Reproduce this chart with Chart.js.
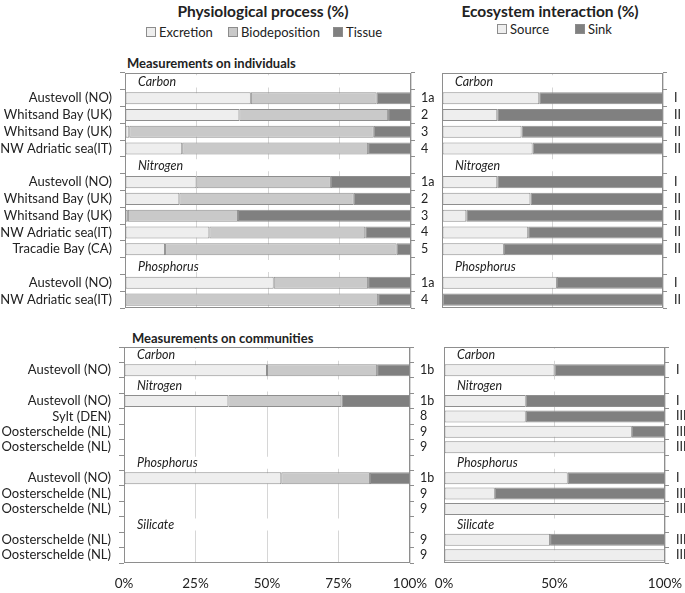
<!DOCTYPE html>
<html>
<head>
<meta charset="utf-8">
<script src="https://cdn.jsdelivr.net/npm/chart.js@4.4.1/dist/chart.umd.min.js"></script>
<style>
  html, body { margin: 0; padding: 0; background: #fff; }
  #wrap { position: relative; width: 685px; height: 593px; overflow: hidden; font-family: Lato, "Noto Sans", sans-serif; color: #222; }
  canvas { position: absolute; }
  .t { position: absolute; white-space: nowrap; }
  .title { font-weight: bold; font-size: 15.5px; transform: translateX(-50%); }
  .sub { font-weight: bold; font-size: 13px; }
  .leg { position: absolute; white-space: nowrap; font-size: 13px; display: flex; align-items: center; }
  .sw { display: inline-block; width: 8px; height: 8px; border: 1px solid #8c8c8c; margin-right: 3px; }
</style>
</head>
<body>
<div id="wrap">
  <div class="t title" style="left:263px; top:2px;">Physiological process (%)</div>
  <div class="leg" style="left:146px; top:24px;"><span class="sw" style="background:#eeeeee"></span>Excretion</div>
  <div class="leg" style="left:228px; top:24px;"><span class="sw" style="background:#c9c9c9"></span>Biodeposition</div>
  <div class="leg" style="left:333px; top:24px;"><span class="sw" style="background:#808080"></span>Tissue</div>

  <div class="t title" style="left:550px; top:2px;">Ecosystem interaction (%)</div>
  <div class="leg" style="left:497px; top:21px;"><span class="sw" style="background:#eeeeee"></span>Source</div>
  <div class="leg" style="left:575px; top:21px;"><span class="sw" style="background:#808080"></span>Sink</div>

  <div class="t sub" style="left:127px; top:55px;">Measurements on individuals</div>
  <div class="t sub" style="left:132px; top:330px;">Measurements on communities</div>

  <canvas id="lt" width="440" height="250" style="left:0px; top:60px;"></canvas>
  <canvas id="rt" width="255" height="250" style="left:430px; top:60px;"></canvas>
  <canvas id="lb" width="440" height="258" style="left:0px; top:335px;"></canvas>
  <canvas id="rb" width="255" height="258" style="left:430px; top:335px;"></canvas>
</div>
<script>
// ---------- Data: measurements on individuals ----------
const topSites = ['', 'Austevoll (NO)', 'Whitsand Bay (UK)', 'Whitsand Bay (UK)', 'NW Adriatic sea(IT)', '', 'Austevoll (NO)', 'Whitsand Bay (UK)', 'Whitsand Bay (UK)', 'NW Adriatic sea(IT)', 'Tracadie Bay (CA)', '', 'Austevoll (NO)', 'NW Adriatic sea(IT)'];
const topStudies = ['', '1a', '2', '3', '4', '', '1a', '2', '3', '4', '5', '', '1a', '4'];
const topTypes = ['', 'I', 'II', 'II', 'II', '', 'I', 'II', 'II', 'II', 'II', '', 'I', 'II'];
const topHeaders = ['Carbon', '', '', '', '', 'Nitrogen', '', '', '', '', '', 'Phosphorus', '', ''];
const topExcretion = [null, 44, 40, 1.5, 20, null, 25, 19, 1, 29.5, 14, null, 52, 0];
const topBiodeposition = [null, 44, 52, 85.5, 65, null, 47, 61, 38.5, 54.5, 81, null, 33, 88.5];
const topTissue = [null, 12, 8, 13, 15, null, 28, 20, 60.5, 16, 5, null, 15, 11.5];
const topSource = [null, 44, 25, 36, 41, null, 25, 40, 11, 39, 28, null, 52, 0];
const topSink = [null, 56, 75, 64, 59, null, 75, 60, 89, 61, 72, null, 48, 100];

// ---------- Data: measurements on communities ----------
const botSites = ['', 'Austevoll (NO)', '', 'Austevoll (NO)', 'Sylt (DEN)', 'Oosterschelde (NL)', 'Oosterschelde (NL)', '', 'Austevoll (NO)', 'Oosterschelde (NL)', 'Oosterschelde (NL)', '', 'Oosterschelde (NL)', 'Oosterschelde (NL)'];
const botStudies = ['', '1b', '', '1b', '8', '9', '9', '', '1b', '9', '9', '', '9', '9'];
const botTypes = ['', 'I', '', 'I', 'III', 'III', 'III', '', 'I', 'III', 'III', '', 'III', 'III'];
const botHeaders = ['Carbon', '', 'Nitrogen', '', '', '', '', 'Phosphorus', '', '', '', 'Silicate', '', ''];
const botExcretion = [null, 50, null, 36.5, null, null, null, null, 55, null, null, null, null, null];
const botBiodeposition = [null, 38.5, null, 39.5, null, null, null, null, 31, null, null, null, null, null];
const botTissue = [null, 11.5, null, 24, null, null, null, null, 14, null, null, null, null, null];
const botSource = [null, 50, null, 37, 37, 85, 100, null, 56, 23, 100, null, 48, 100];
const botSink = [null, 50, null, 63, 63, 15, 0, null, 44, 77, 0, null, 52, 0];

const xTicksLeft = ['0%', '25%', '50%', '75%', '100%'];
const xTicksRight = ['0%', '50%', '100%'];

// ---------- Styles ----------
const C_LIGHT = '#eeeeee', C_MID = '#c9c9c9', C_DARK = '#808080';
const C_EDGE = '#8e8e8e', C_GRID = '#d6d6d6', C_TEXT = '#222';
Chart.defaults.font.family = 'Lato, "Noto Sans", sans-serif';
Chart.defaults.color = C_TEXT;

const boxAndHeaders = {
  id: 'boxAndHeaders',
  afterDatasetsDraw(chart, args, opts) {
    const ctx = chart.ctx, a = chart.chartArea;
    ctx.save();
    ctx.strokeStyle = C_EDGE;
    ctx.lineWidth = 1;
    ctx.strokeRect(Math.round(a.left) + 0.5, Math.round(a.top) + 0.5, Math.round(a.right - a.left) - 1, Math.round(a.bottom - a.top) - 1);
    const ys = chart.scales[opts.indexScale];
    ctx.font = 'italic 12.5px Lato, "Noto Sans", sans-serif';
    ctx.fillStyle = '#222';
    ctx.textBaseline = 'middle';
    ctx.textAlign = 'left';
    opts.headers.forEach((h, i) => {
      if (h) ctx.fillText(h, a.left + opts.indent, ys.getPixelForValue(i) + 0.5);
    });
    ctx.restore();
  }
};

function headerBar(headers) {
  return { label: 'header', data: headers.map(h => h ? 100 : null), backgroundColor: '#ffffff', borderWidth: 0 };
}
function ds(label, data, color) {
  return { label, data, backgroundColor: color, borderColor: C_EDGE, borderWidth: 1, borderSkipped: false };
}

function makeChart(id, cfg) {
  const xScale = {
    type: 'linear', min: 0, max: 100, stacked: true, position: 'bottom',
    grid: { color: C_GRID, lineWidth: 1, drawTicks: false },
    border: { display: false },
    ticks: {
      display: cfg.showX, stepSize: cfg.step, padding: 13, color: C_TEXT,
      font: { size: 13.5 },
      callback: (v) => cfg.xLabels[Math.round(v / cfg.step)]
    },
    afterFit: (s) => { s.height = cfg.xHeight; s.paddingLeft = 0; s.paddingRight = 0; }
  };
  const scales = { x: xScale };
  scales.y = {
    type: 'category', stacked: true, offset: true, position: cfg.indexPos,
    grid: { drawOnChartArea: false, drawTicks: true, tickLength: cfg.tickLen, color: C_EDGE, offset: true },
    border: { display: false },
    ticks: { autoSkip: false, padding: cfg.tickPad, color: C_TEXT, font: { size: cfg.labelSize } },
    afterFit: (s) => { s.width = cfg.indexWidth; s.paddingTop = 0; s.paddingBottom = 0; }
  };
  if (cfg.secondLabels) {
    scales.y2 = {
      type: 'category', labels: cfg.secondLabels, offset: true, position: 'right',
      grid: { drawOnChartArea: false, drawTicks: true, tickLength: 4, color: C_EDGE, offset: true },
      border: { display: false },
      ticks: { autoSkip: false, padding: 6, color: C_TEXT, font: { size: 12.5 } },
      afterFit: (s) => { s.width = cfg.secondWidth; s.paddingTop = 0; s.paddingBottom = 0; }
    };
  }
  return new Chart(document.getElementById(id), {
    type: 'bar',
    data: { labels: cfg.labels, datasets: cfg.datasets.map(d => Object.assign(d, { barPercentage: cfg.barPct, categoryPercentage: 1 })) },
    options: {
      indexAxis: 'y', responsive: false, animation: false, devicePixelRatio: 1,
      layout: { padding: cfg.padding },
      plugins: { legend: { display: false }, tooltip: { enabled: false },
        boxAndHeaders: { headers: cfg.headers, indent: cfg.indent, indexScale: 'y' } },
      scales
    },
    plugins: [boxAndHeaders]
  });
}

makeChart('lt', {
  labels: topSites, secondLabels: topStudies, secondWidth: 29, headers: topHeaders, indent: 13,
  indexPos: 'left', indexWidth: 125, tickLen: 5, tickPad: 8, labelSize: 13,
  showX: false, xHeight: 0, step: 25, xLabels: xTicksLeft, barPct: 0.72,
  padding: { top: 13, bottom: 2, left: 0, right: 0 },
  datasets: [headerBar(topHeaders), ds('Excretion', topExcretion, C_LIGHT), ds('Biodeposition', topBiodeposition, C_MID), ds('Tissue', topTissue, C_DARK)]
});
makeChart('rt', {
  labels: topTypes, headers: topHeaders, indent: 13,
  indexPos: 'right', indexWidth: 22, tickLen: 4, tickPad: 7, labelSize: 12.5,
  showX: false, xHeight: 0, step: 50, xLabels: xTicksRight, barPct: 0.72,
  padding: { top: 13, bottom: 2, left: 12, right: 0 },
  datasets: [headerBar(topHeaders), ds('Source', topSource, C_LIGHT), ds('Sink', topSink, C_DARK)]
});
makeChart('lb', {
  labels: botSites, secondLabels: botStudies, secondWidth: 30, headers: botHeaders, indent: 13,
  indexPos: 'left', indexWidth: 124, tickLen: 5, tickPad: 8, labelSize: 13,
  showX: true, xHeight: 30, step: 25, xLabels: xTicksLeft, barPct: 0.78,
  padding: { top: 12, bottom: 0, left: 0, right: 0 },
  datasets: [headerBar(botHeaders), ds('Excretion', botExcretion, C_LIGHT), ds('Biodeposition', botBiodeposition, C_MID), ds('Tissue', botTissue, C_DARK)]
});
makeChart('rb', {
  labels: botTypes, headers: botHeaders, indent: 13,
  indexPos: 'right', indexWidth: 20, tickLen: 4, tickPad: 7, labelSize: 12.5,
  showX: true, xHeight: 30, step: 50, xLabels: xTicksRight, barPct: 0.78,
  padding: { top: 12, bottom: 0, left: 14, right: 0 },
  datasets: [headerBar(botHeaders), ds('Source', botSource, C_LIGHT), ds('Sink', botSink, C_DARK)]
});
</script>
</body>
</html>
